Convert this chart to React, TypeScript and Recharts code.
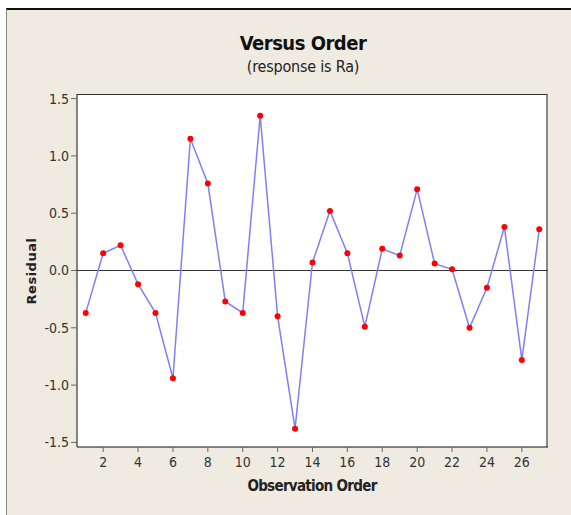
import React from 'react'
import { LineChart, Line, XAxis, YAxis, ReferenceLine } from 'recharts'

const order = [1, 2, 3, 4, 5, 6, 7, 8, 9, 10, 11, 12, 13, 14, 15, 16, 17, 18, 19, 20, 21, 22, 23, 24, 25, 26, 27]
const residuals = [
  -0.37, 0.15, 0.22, -0.12, -0.37, -0.94, 1.15, 0.76, -0.27, -0.37, 1.35, -0.4, -1.38, 0.07,
  0.52, 0.15, -0.49, 0.19, 0.13, 0.71, 0.06, 0.01, -0.5, -0.15, 0.38, -0.78, 0.36,
]
const xTicks = [2, 4, 6, 8, 10, 12, 14, 16, 18, 20, 22, 24, 26]
const yTicks = [-1.5, -1.0, -0.5, 0.0, 0.5, 1.0, 1.5]

const data = order.map((o, i) => ({ order: o, residual: residuals[i] }))

const narrow = '"DejaVu Sans Condensed", "DejaVu Sans", sans-serif'

export default function App() {
  return (
    <div style={{ position: 'absolute', left: 0, top: 0, width: 571, height: 515, background: '#fff' }}>
      {/* beige panel */}
      <div
        style={{
          position: 'absolute',
          left: 6,
          top: 8,
          width: 565,
          height: 507,
          background: '#efebe1',
          borderTop: '2px solid #111',
          borderLeft: '1px solid #888',
          boxSizing: 'border-box',
        }}
      />
      {/* plot area background */}
      <div
        style={{
          position: 'absolute',
          left: 77,
          top: 94,
          width: 471,
          height: 353,
          background: '#fff',
          borderTop: '1px solid #333',
          borderRight: '2px solid #8a8a8a',
          boxSizing: 'border-box',
        }}
      />
      <div
        style={{
          position: 'absolute',
          left: 0,
          width: 606,
          top: 31,
          textAlign: 'center',
          fontFamily: narrow,
          fontStretch: 'condensed',
          fontWeight: 'bold',
          fontSize: 20,
          letterSpacing: -0.5,
          color: '#111',
        }}
      >
        Versus Order
      </div>
      <div
        style={{
          position: 'absolute',
          left: 0,
          width: 606,
          top: 57,
          textAlign: 'center',
          fontFamily: narrow,
          fontStretch: 'condensed',
          fontSize: 16,
          letterSpacing: -0.2,
          color: '#222',
        }}
      >
        (response is Ra)
      </div>
      <div
        style={{
          position: 'absolute',
          left: 0,
          width: 624,
          top: 477,
          textAlign: 'center',
          fontFamily: narrow,
          fontStretch: 'condensed',
          fontWeight: 'bold',
          fontSize: 15,
          letterSpacing: -0.7,
          color: '#222',
        }}
      >
        Observation Order
      </div>
      <div
        style={{
          position: 'absolute',
          left: 31,
          top: 271,
          transform: 'translate(-50%, -50%) rotate(-90deg)',
          fontFamily: '"DejaVu Sans", sans-serif',
          fontWeight: 'bold',
          fontSize: 13,
          letterSpacing: 0.5,
          color: '#222',
          whiteSpace: 'nowrap',
        }}
      >
        Residual
      </div>
      <div style={{ position: 'absolute', left: 0, top: 0 }}>
        <LineChart width={571} height={515} data={data} margin={{ top: 94, right: 23, bottom: 28, left: 27 }}>
          <XAxis
            dataKey="order"
            type="number"
            domain={[0.5, 27.5]}
            ticks={xTicks}
            height={40}
            tickSize={5}
            tickMargin={5}
            stroke="#111"
            tickLine={{ stroke: '#666' }}
            tick={{ fill: '#333', fontSize: 14, fontFamily: narrow, style: { fontStretch: 'condensed' } }}
            allowDataOverflow
          />
          <YAxis
            type="number"
            domain={[-1.54, 1.54]}
            ticks={yTicks}
            width={50}
            tickSize={6}
            tickMargin={2}
            stroke="#111"
            tickLine={{ stroke: '#666' }}
            tickFormatter={(v: number) => v.toFixed(1)}
            tick={{ fill: '#333', fontSize: 14, fontFamily: narrow, style: { fontStretch: 'condensed' } }}
            allowDataOverflow
          />
          <ReferenceLine y={0} stroke="#333" strokeWidth={1} />
          <Line
            type="linear"
            dataKey="residual"
            stroke="#7f7ff7"
            strokeWidth={1.5}
            dot={{ r: 3, fill: '#ff0000', stroke: 'none' }}
            isAnimationActive={false}
          />
        </LineChart>
      </div>
    </div>
  )
}
